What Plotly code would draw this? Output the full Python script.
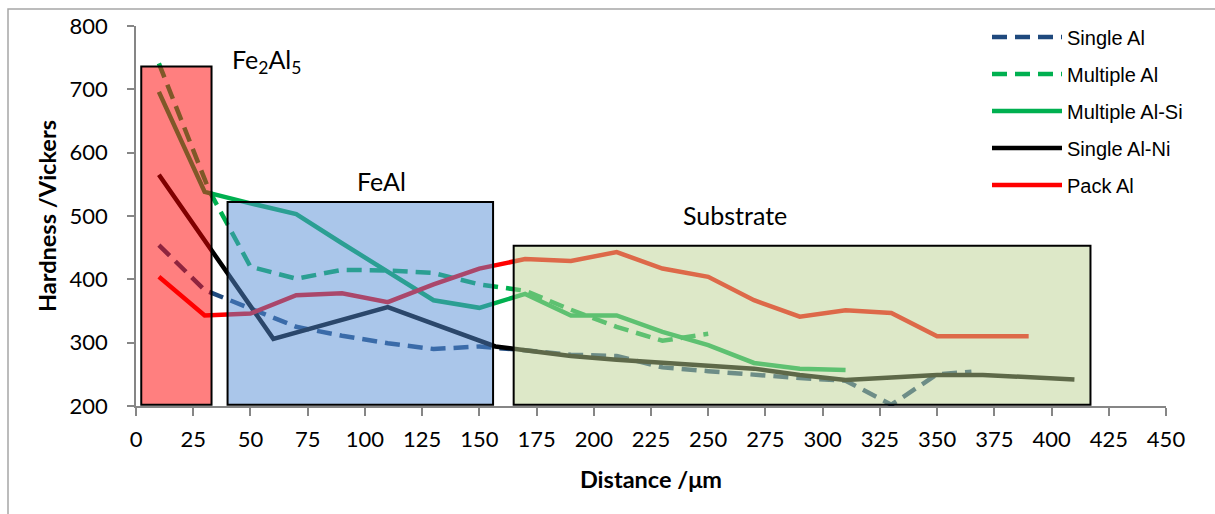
import plotly.graph_objects as go

# ---- data ----
single_al_x = [10, 30, 50, 70, 90, 110, 130, 150, 170, 190, 210, 230, 250, 270, 290, 310, 330, 350, 365]
single_al_y = [454, 383, 354, 325, 311, 299, 290, 294, 288, 281, 279, 261, 255, 249, 244, 240, 202, 250, 254]

multi_al_x = [10, 32, 50, 70, 90, 110, 130, 150, 170, 190, 210, 230, 250]
multi_al_y = [741, 540, 420, 401, 415, 414, 410, 392, 382, 352, 325, 303, 314]

multi_alsi_x = [10, 30, 50, 70, 90, 110, 130, 150, 170, 190, 210, 230, 250, 270, 290, 310]
multi_alsi_y = [696, 538, 520, 503, 457, 412, 367, 355, 377, 343, 343, 317, 296, 268, 259, 257]

single_alni_x = [10, 30, 60, 110, 157, 170, 190, 210, 230, 250, 270, 290, 310, 330, 350, 370, 390, 410]
single_alni_y = [565, 462, 306, 356, 294, 288, 279, 273, 268, 264, 259, 249, 241, 245, 249, 249, 245, 242]

pack_al_x = [10, 30, 50, 70, 90, 110, 130, 150, 170, 190, 210, 230, 250, 270, 290, 310, 330, 350, 370, 390]
pack_al_y = [404, 343, 346, 375, 378, 364, 392, 417, 432, 429, 443, 417, 404, 367, 341, 351, 347, 310, 310, 310]

series_names = ["Single Al", "Multiple Al", "Multiple Al-Si", "Single Al-Ni", "Pack Al"]
series_colors = ["#1F497D", "#00B050", "#00B050", "#000000", "#FF0000"]
series_dash = ["15px,8px", "15px,8px", "solid", "solid", "solid"]

# regions: (label, x0, x1, y0, y1)
region_labels = ["Fe<sub>2</sub>Al<sub>5</sub>", "FeAl", "Substrate"]
region_x0 = [2.3, 40, 165]
region_x1 = [33, 156, 417]
region_top = [736, 522, 453]
region_bottom = [202, 202, 202]
region_fill = ["rgba(255,0,0,0.5)", "rgba(85,142,213,0.5)", "rgba(187,209,145,0.5)"]
label_x = [41, 95.5, 238]
label_y = [744, 555, 502]

xs = [single_al_x, multi_al_x, multi_alsi_x, single_alni_x, pack_al_x]
ys = [single_al_y, multi_al_y, multi_alsi_y, single_alni_y, pack_al_y]

fig = go.Figure()
for name, x, y, c, d in zip(series_names, xs, ys, series_colors, series_dash):
    fig.add_trace(go.Scatter(x=x, y=y, mode="lines", name=name, legendgroup=name,
                             line=dict(color=c, width=4.5, dash=d)))

shapes = []
# outer chart border
shapes.append(dict(type="rect", xref="paper", yref="paper",
                   x0=(8 - 136) / 1030, x1=(1225 - 136) / 1030,
                   y0=(406 - 530) / 380, y1=(406 - 9) / 380,
                   line=dict(color="#A6A6A6", width=1.5), fillcolor="rgba(0,0,0,0)", layer="below"))
for x0, x1, y0, y1, fc in zip(region_x0, region_x1, region_bottom, region_top, region_fill):
    shapes.append(dict(type="rect", xref="x", yref="y", x0=x0, x1=x1, y0=y0, y1=y1,
                       fillcolor=fc, line=dict(color="black", width=2), layer="above"))

annotations = []
for t, x, y in zip(region_labels, label_x, label_y):
    annotations.append(dict(x=x, y=y, xref="x", yref="y", text=t, showarrow=False,
                            xanchor="left", yanchor="middle",
                            font=dict(family="Lato", size=25, color="black")))

fig.update_layout(
    width=1215, height=514,
    margin=dict(l=136, r=49, t=26, b=108),
    paper_bgcolor="white", plot_bgcolor="white",
    shapes=shapes, annotations=annotations,
    showlegend=True,
    legend=dict(x=(987 - 136) / 1030, y=(406 - 17.5) / 380, xanchor="left", yanchor="top",
                font=dict(family="Liberation Sans", size=20, color="black"),
                tracegroupgap=8, itemwidth=70, bgcolor="rgba(0,0,0,0)"),
    xaxis=dict(range=[0, 450], tickmode="linear", tick0=0, dtick=25,
               showline=True, linecolor="#868686", linewidth=1.5,
               ticks="outside", ticklen=8, tickcolor="#868686", tickwidth=1.5,
               showgrid=False, zeroline=False, ticklabelstandoff=5,
               tickfont=dict(family="Lato", size=22, color="black"),
               title=dict(text="<b>Distance /μm</b>", standoff=20,
                          font=dict(family="Lato", size=23.5, color="black"))),
    yaxis=dict(range=[200, 800], tickmode="linear", tick0=200, dtick=100,
               showline=True, linecolor="#868686", linewidth=1.5,
               ticks="outside", ticklen=7, tickcolor="#868686", tickwidth=1.5,
               showgrid=False, zeroline=False, ticklabelstandoff=15,
               tickfont=dict(family="Lato", size=22, color="black"),
               title=dict(text="<b>Hardness /Vickers</b>", standoff=6,
                          font=dict(family="Lato", size=23.5, color="black"))),
)

fig.write_html("out.html")
